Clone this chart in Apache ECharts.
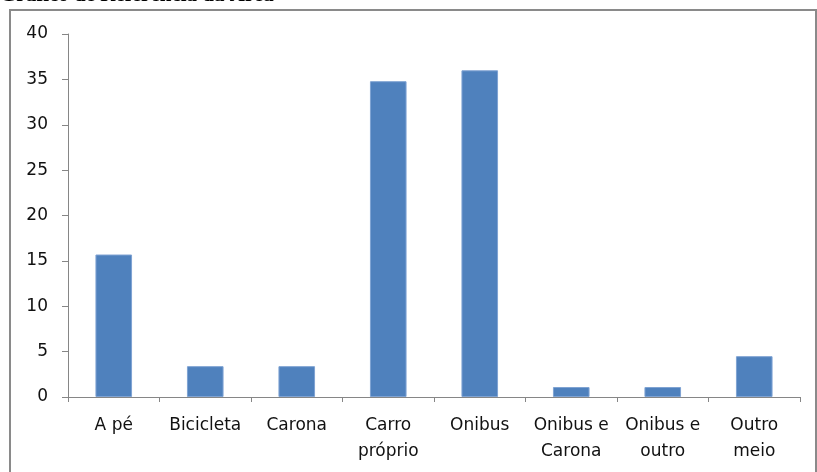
<!DOCTYPE html>
<html>
<head>
<meta charset="utf-8">
<script src="https://cdn.jsdelivr.net/npm/echarts@6/dist/echarts.min.js"></script>
<style>
  html, body { margin: 0; padding: 0; background: #fff; }
  #chart { width: 817px; height: 472px; }
</style>
</head>
<body>
<div id="chart"></div>
<script>
// Meio de transporte utilizado (%)
const categories = ['A pé', 'Bicicleta', 'Carona', 'Carro\npróprio', 'Onibus', 'Onibus e\nCarona', 'Onibus e\noutro', 'Outro\nmeio'];
const values = [15.7, 3.4, 3.4, 34.8, 36.0, 1.1, 1.1, 4.5];
const yTicks = [0, 5, 10, 15, 20, 25, 30, 35, 40];
const title = 'Gráfico de Referência da Área';

const chart = echarts.init(document.getElementById('chart'), null, { renderer: 'canvas' });
const axisGray = '#868686';
const labelFont = '"DejaVu Sans", sans-serif';

chart.setOption({
  animation: false,
  graphic: [
    {
      type: 'rect',
      shape: { x: 10, y: 10, width: 806, height: 480 },
      style: { fill: 'none', stroke: '#8a8a8a', lineWidth: 2 },
      silent: true
    },
    {
      type: 'text',
      left: 0,
      top: -15,
      style: {
        text: title,
        font: 'bold 21px "Liberation Serif", serif',
        fill: '#000'
      },
      silent: true
    }
  ],
  grid: { left: 68, right: 17, top: 34, bottom: 75, containLabel: false },
  xAxis: {
    type: 'category',
    data: categories,
    axisLine: { lineStyle: { color: axisGray, width: 1 } },
    axisTick: { show: true, alignWithLabel: false, length: 5, lineStyle: { color: axisGray } },
    axisLabel: {
      interval: 0,
      margin: 16,
      fontFamily: labelFont,
      fontSize: 17,
      color: '#111',
      lineHeight: 26
    }
  },
  yAxis: {
    type: 'value',
    min: yTicks[0],
    max: yTicks[yTicks.length - 1],
    interval: yTicks[1] - yTicks[0],
    axisLine: { show: true, lineStyle: { color: axisGray, width: 1 } },
    axisTick: { show: true, length: 6, lineStyle: { color: axisGray } },
    splitLine: { show: false },
    axisLabel: {
      margin: 20,
      fontFamily: labelFont,
      fontSize: 17,
      color: '#111',
      padding: [5, 0, 0, 0]
    }
  },
  series: [{
    type: 'bar',
    data: values,
    barWidth: '40%',
    itemStyle: { color: '#4F81BD', borderColor: '#7FA3D3', borderWidth: 1 }
  }]
});
</script>
</body>
</html>
